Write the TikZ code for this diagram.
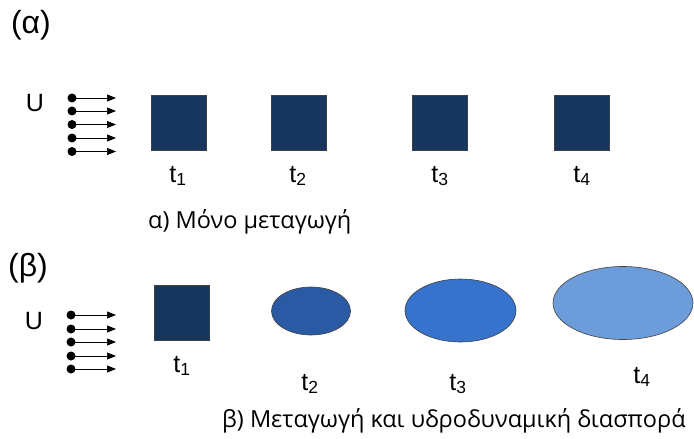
\documentclass[tikz,border=0pt]{standalone}
\usepackage{fontspec}
\setmainfont{Liberation Sans}
\newfontfamily\capfont{Open Sans}
\usetikzlibrary{shapes.geometric,arrows.meta}
\definecolor{navy}{HTML}{17365D}
\definecolor{blueA}{HTML}{2A5AA3}
\definecolor{blueB}{HTML}{3573CC}
\definecolor{blueC}{HTML}{6D9CDA}
\definecolor{edge}{HTML}{404040}
\newcommand{\tsub}[1]{t\textsubscript{#1}}
\tikzset{
  blob/.style={draw=edge,line width=0.6pt},
  sq/.style={blob,fill=navy,minimum size=55pt,inner sep=0pt},
  ell/.style={blob,ellipse,inner sep=0pt},
  tlab/.style={font=\fontsize{25}{25}\selectfont,inner sep=0pt},
  panel/.style={font=\fontsize{32}{32}\selectfont,inner sep=0pt},
  caption/.style={font=\capfont\fontsize{23.5}{23.5}\selectfont,inner sep=0pt,anchor=west},
  flow/.style={line width=0.7pt,-{Triangle[length=9pt,width=7pt]}},
  dot/.style={circle,fill=black,inner sep=0pt,minimum size=9pt}
}
\begin{document}
\begin{tikzpicture}[x=1pt,y=-1pt]
\useasboundingbox (0,0) rectangle (694,439);

% ---- panel (alpha): advection only ----
\node[panel] (la) at (31,25) {(α)};
\node[tlab] (ua) at (35,103) {U};
\foreach \i/\yy in {1/98,2/111,3/124.5,4/138,5/151.5}{
  \node[dot] (da\i) at (72,\yy) {};
  \coordinate (ea\i) at (116,\yy);
  \draw[flow] (da\i.center) -- (ea\i);
}
\node[sq] (a1) at (178.5,123) {};
\node[sq] (a2) at (298.5,123) {};
\node[sq] (a3) at (440,123) {};
\node[sq] (a4) at (581.5,123) {};
\node[tlab] (ta1) at (178,176) {\tsub{1}};
\node[tlab] (ta2) at (298,176) {\tsub{2}};
\node[tlab] (ta3) at (440,176) {\tsub{3}};
\node[tlab] (ta4) at (582,176) {\tsub{4}};
\node[caption] (ca) at (148,222) {α) Μόνο μεταγωγή};

% ---- panel (beta): advection and hydrodynamic dispersion ----
\node[panel] (lb) at (28,268) {(β)};
\node[tlab] (ub) at (34,321) {U};
\foreach \i/\yy in {1/315,2/329,3/342,4/356,5/369}{
  \node[dot] (db\i) at (71,\yy) {};
  \coordinate (eb\i) at (116,\yy);
  \draw[flow] (db\i.center) -- (eb\i);
}
\node[sq] (b1) at (182,313) {};
\node[ell,fill=blueA,minimum width=79pt,minimum height=48pt] (b2) at (311,311) {};
\node[ell,fill=blueB,minimum width=111pt,minimum height=63pt] (b3) at (460.5,310.5) {};
\node[ell,fill=blueC,minimum width=140pt,minimum height=73pt] (b4) at (623,303) {};
\node[tlab] (tb1) at (182,366) {\tsub{1}};
\node[tlab] (tb2) at (310,384) {\tsub{2}};
\node[tlab] (tb3) at (458,384) {\tsub{3}};
\node[tlab] (tb4) at (642,377) {\tsub{4}};
\node[caption] (cb) at (222,421) {β) Μεταγωγή και υδροδυναμική διασπορά};
\end{tikzpicture}
\end{document}
